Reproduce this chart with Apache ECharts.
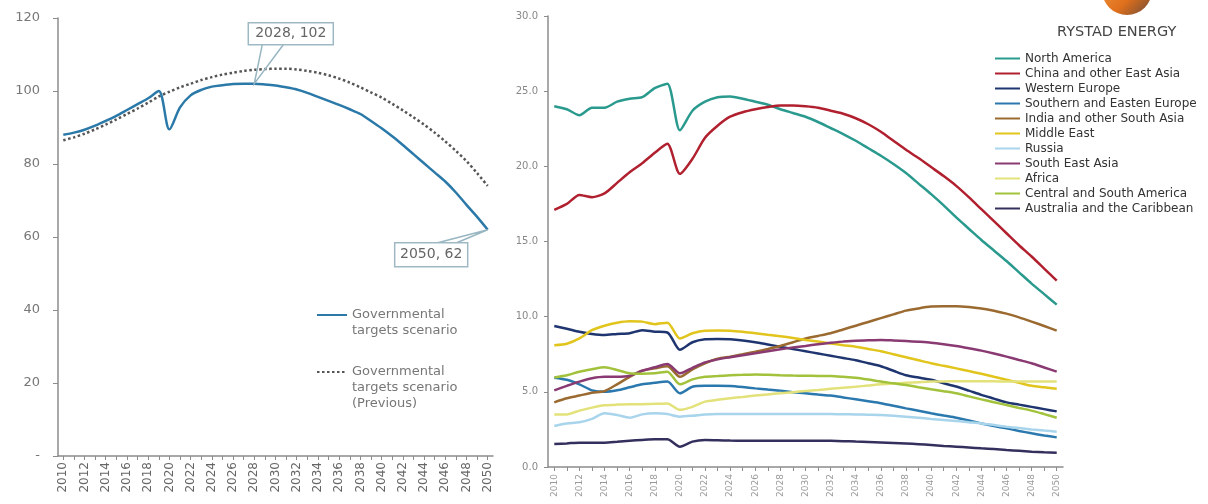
<!DOCTYPE html>
<html>
<head>
<meta charset="utf-8">
<script src="https://cdn.jsdelivr.net/npm/echarts@6/dist/echarts.min.js"></script>
<style>
  html, body { margin: 0; padding: 0; background: #ffffff; }
  #chart { width: 1208px; height: 504px; }
</style>
</head>
<body>
<div id="chart"></div>
<script>
// ---------- DATA ----------
const years = [2010,2011,2012,2013,2014,2015,2016,2017,2018,2019,2020,2021,2022,2023,2024,2025,2026,2027,2028,2029,2030,
               2031,2032,2033,2034,2035,2036,2037,2038,2039,2040,2041,2042,2043,2044,2045,2046,2047,2048,2049,2050];

// Left chart
const govTargets = [88,88.6,89.4,90.5,91.8,93.2,94.8,96.4,98,100,89.5,95.5,98.8,100.3,101.2,101.6,101.9,102,102,101.8,101.5,
                    101,100.4,99.5,98.4,97.3,96.2,95,93.7,91.8,89.8,87.6,85.2,82.7,80.2,77.7,75.2,72.2,68.8,65.5,62];
const govPrevious = [86.5,87.3,88.3,89.5,90.8,92.2,93.7,95.2,96.8,98.5,99.8,101,102,103,103.8,104.5,105,105.5,105.8,106,106.1,
                     106.1,105.9,105.5,105,104.3,103.4,102.3,101,99.6,98.2,96.5,94.7,92.8,90.8,88.6,86.2,83.6,80.8,77.5,74];
const calloutYears = [2028, 2050];
const leftYTicks = [0,20,40,60,80,100,120];

// Right chart (regions)
const regionNames = ['North America','China and other East Asia','Western Europe','Southern and Easten Europe',
  'India and other South Asia','Middle East','Russia','South East Asia','Africa','Central and South America',
  'Australia and the Caribbean'];
const northAmerica = [24.0,23.8,23.4,23.9,23.9,24.3,24.5,24.6,25.2,25.5,22.4,23.7,24.3,24.6,24.65,24.5,24.3,24.1,23.8,23.55,23.3,
  22.95,22.55,22.15,21.7,21.2,20.7,20.15,19.55,18.85,18.15,17.4,16.6,15.85,15.1,14.4,13.7,12.95,12.2,11.5,10.8];
const chinaEastAsia = [17.1,17.5,18.1,17.95,18.2,18.9,19.6,20.2,20.9,21.5,19.5,20.5,21.9,22.7,23.3,23.6,23.8,23.95,24.05,24.05,24.0,
  23.9,23.7,23.5,23.2,22.8,22.3,21.7,21.1,20.55,19.95,19.35,18.7,17.95,17.15,16.35,15.55,14.75,14.0,13.2,12.4];
const westernEurope = [9.38,9.2,9.0,8.85,8.78,8.85,8.9,9.1,9.0,8.95,7.8,8.3,8.5,8.52,8.5,8.42,8.3,8.15,8.0,7.85,7.7,
  7.55,7.4,7.25,7.1,6.9,6.7,6.4,6.1,5.95,5.8,5.57,5.35,5.08,4.8,4.55,4.3,4.15,4.0,3.85,3.7];
const southEastEurope = [5.94,5.8,5.5,5.1,5.0,5.1,5.3,5.5,5.6,5.68,4.9,5.34,5.4,5.4,5.39,5.32,5.23,5.15,5.08,4.98,4.9,
  4.82,4.75,4.63,4.5,4.37,4.24,4.07,3.9,3.74,3.57,3.42,3.28,3.09,2.9,2.73,2.57,2.4,2.24,2.1,1.97];
const indiaSouthAsia = [4.3,4.57,4.75,4.94,5.05,5.5,6.0,6.4,6.56,6.7,6.0,6.5,6.9,7.2,7.34,7.5,7.67,7.85,8.05,8.3,8.55,
  8.72,8.9,9.15,9.4,9.65,9.9,10.15,10.4,10.55,10.67,10.7,10.7,10.65,10.55,10.4,10.2,9.95,9.67,9.38,9.07];
const middleEast = [8.1,8.2,8.55,9.1,9.4,9.6,9.7,9.67,9.5,9.6,8.55,8.9,9.07,9.08,9.07,9.0,8.9,8.8,8.7,8.58,8.45,
  8.35,8.22,8.1,8.0,7.85,7.7,7.5,7.3,7.1,6.9,6.73,6.56,6.38,6.2,6.0,5.8,5.6,5.4,5.3,5.2];
const russia = [2.73,2.9,2.97,3.2,3.57,3.46,3.28,3.5,3.57,3.52,3.35,3.41,3.5,3.52,3.52,3.52,3.52,3.52,3.52,3.52,3.52,
  3.52,3.52,3.51,3.5,3.48,3.46,3.41,3.35,3.28,3.2,3.13,3.06,2.98,2.9,2.79,2.68,2.59,2.5,2.42,2.35];
const southEastAsia = [5.1,5.4,5.68,5.9,6.0,6.0,6.07,6.4,6.63,6.85,6.23,6.6,6.96,7.16,7.3,7.43,7.56,7.7,7.83,7.95,8.05,
  8.17,8.27,8.34,8.4,8.43,8.45,8.42,8.38,8.33,8.27,8.17,8.05,7.9,7.74,7.55,7.34,7.12,6.9,6.62,6.34];
const africa = [3.5,3.5,3.75,3.95,4.1,4.15,4.17,4.18,4.2,4.23,3.8,4.0,4.35,4.47,4.57,4.66,4.75,4.83,4.9,4.98,5.05,
  5.12,5.2,5.27,5.34,5.42,5.5,5.55,5.6,5.64,5.68,5.69,5.7,5.7,5.7,5.7,5.69,5.69,5.68,5.68,5.68];
const centralSouthAmerica = [5.96,6.1,6.34,6.5,6.63,6.45,6.23,6.2,6.23,6.34,5.5,5.83,6.0,6.05,6.1,6.13,6.16,6.14,6.1,6.08,6.07,
  6.06,6.05,6.0,5.94,5.82,5.68,5.57,5.45,5.31,5.17,5.04,4.9,4.7,4.5,4.31,4.12,3.93,3.75,3.52,3.28];
const australiaCaribbean = [1.53,1.57,1.62,1.62,1.62,1.68,1.75,1.8,1.84,1.84,1.35,1.69,1.8,1.78,1.76,1.75,1.75,1.75,1.75,1.75,1.75,
  1.75,1.74,1.72,1.69,1.66,1.63,1.6,1.57,1.52,1.46,1.4,1.35,1.3,1.24,1.19,1.13,1.08,1.02,0.98,0.95];
const rightYTicks = [0,5,10,15,20,25,30];

// ---------- STYLE ----------
const FONT = 'DejaVu Sans';
const regionColors = ['#2a9a8e','#b0202e','#1f3570','#2a78ad','#9a6a30','#e2c51c','#a8d4ec','#8a3a72','#e3e27a','#a2c23c','#34305e'];
const regionSeriesData = [northAmerica, chinaEastAsia, westernEurope, southEastEurope, indiaSouthAsia, middleEast,
  russia, southEastAsia, africa, centralSouthAmerica, australiaCaribbean];
const calloutLayout = [
  { bx: -6, by: -61, bw: 85, bh: 22, w1: 8, w2: 29, wy: -39 },
  { bx: -93, by: 13, bw: 73, bh: 24, w1: -50, w2: -31, wy: 13 }
];
const nameSolid = 'Governmental\ntargets scenario';
const namePrev = 'Governmental\ntargets scenario\n(Previous)';

const chart = echarts.init(document.getElementById('chart'), null, { renderer: 'canvas' });

const axisLineGrey = { show: true, lineStyle: { color: '#8c8c8c', width: 1.5 } };

const rightSeries = regionNames.map((n, i) => ({
  name: n, type: 'line', xAxisIndex: 1, yAxisIndex: 1,
  data: regionSeriesData[i], symbol: 'none', smooth: 0.25,
  lineStyle: { color: regionColors[i], width: 2.5 }, itemStyle: { color: regionColors[i] },
  z: 3
}));

// pad the multi-line legend texts so the icon sits level with the first line
const alignFirstLine = name => '\n'.repeat(name.split('\n').length - 1) + name;

const option = {
  backgroundColor: '#ffffff',
  animation: false,
  textStyle: { fontFamily: FONT },
  grid: [
    { left: 58, top: 18, width: 435, height: 438 },
    { left: 548, top: 16, width: 515, height: 451 }
  ],
  xAxis: [
    { type: 'category', gridIndex: 0, data: years, boundaryGap: true,
      axisLine: axisLineGrey,
      axisTick: { show: true, interval: 0, alignWithLabel: true, length: 4, lineStyle: { color: '#8c8c8c' } },
      axisLabel: { interval: 1, rotate: 90, fontSize: 12, color: '#666', fontFamily: FONT, margin: 6 } },
    { type: 'category', gridIndex: 1, data: years, boundaryGap: true,
      axisLine: axisLineGrey,
      axisTick: { show: true, interval: 0, alignWithLabel: true, length: 4, lineStyle: { color: '#8c8c8c' } },
      axisLabel: { interval: 1, rotate: 90, fontSize: 9, color: '#999', fontFamily: FONT, margin: 7 } }
  ],
  yAxis: [
    { type: 'value', gridIndex: 0, min: leftYTicks[0], max: leftYTicks[leftYTicks.length-1], interval: 20,
      axisLine: axisLineGrey, splitLine: { show: false },
      axisTick: { show: true, length: 5, lineStyle: { color: '#8c8c8c' } },
      axisLabel: { fontSize: 13, color: '#777', fontFamily: FONT, margin: 18,
                   formatter: v => v === 0 ? '-' : String(v) } },
    { type: 'value', gridIndex: 1, min: rightYTicks[0], max: rightYTicks[rightYTicks.length-1], interval: 5,
      axisLine: axisLineGrey, splitLine: { show: false },
      axisTick: { show: true, length: 4, lineStyle: { color: '#8c8c8c' } },
      axisLabel: { fontSize: 10, color: '#888', fontFamily: FONT, margin: 10,
                   formatter: v => v.toFixed(1) } }
  ],
  legend: [
    { data: [nameSolid], orient: 'vertical', left: 316, top: 291, padding: 0,
      itemWidth: 30, itemHeight: 10, selectedMode: false, formatter: alignFirstLine,
      itemStyle: { opacity: 0 },
      textStyle: { fontSize: 13, lineHeight: 16, color: '#777', fontFamily: FONT } },
    { data: [namePrev], orient: 'vertical', left: 316, top: 332, padding: 0,
      itemWidth: 30, itemHeight: 10, selectedMode: false, formatter: alignFirstLine,
      itemStyle: { opacity: 0 },
      textStyle: { fontSize: 13, lineHeight: 16, color: '#777', fontFamily: FONT } },
    { data: regionNames, orient: 'vertical', left: 994, top: 51, padding: 0,
      itemWidth: 25, itemHeight: 8, itemGap: 0, selectedMode: false,
      itemStyle: { opacity: 0 },
      textStyle: { fontSize: 12, lineHeight: 15, color: '#333', fontFamily: FONT } }
  ],
  graphic: [
    { type: 'circle', shape: { cx: 1127, cy: -10, r: 25 },
      style: { fill: new echarts.graphic.LinearGradient(0, 0, 1, 1, [
        { offset: 0, color: '#f6a048' }, { offset: 0.6, color: '#e0701c' }, { offset: 1, color: '#6b4a3a' }]) } },
    { type: 'text', left: 1057, top: 25,
      style: { text: 'RYSTAD ENERGY', font: '14.5px "DejaVu Sans"', fill: '#444' } }
  ],
  series: [
    { name: namePrev, type: 'line', xAxisIndex: 0, yAxisIndex: 0, data: govPrevious, symbol: 'none', smooth: 0.3,
      lineStyle: { color: '#555', width: 2.5, type: [2.5, 2.5] }, itemStyle: { color: '#555' }, z: 2 },
    { name: nameSolid, type: 'line', xAxisIndex: 0, yAxisIndex: 0, data: govTargets, symbol: 'none', smooth: 0.3,
      lineStyle: { color: '#2a79a8', width: 2.5 }, itemStyle: { color: '#2a79a8' }, z: 3 },
    { name: 'callouts', type: 'custom', xAxisIndex: 0, yAxisIndex: 0, silent: true, clip: false, z: 5,
      data: calloutYears.map(y => [years.indexOf(y), govTargets[years.indexOf(y)]]),
      renderItem: function (params, api) {
        const p = api.coord([api.value(0), api.value(1)]);
        const L = calloutLayout[params.dataIndex];
        const label = years[api.value(0)] + ', ' + api.value(1);
        return { type: 'group', children: [
          { type: 'polyline', shape: { points: [[p[0] + L.w1, p[1] + L.wy], [p[0], p[1]], [p[0] + L.w2, p[1] + L.wy]] },
            style: { stroke: '#98b6c2', lineWidth: 1.5, fill: null } },
          { type: 'rect', shape: { x: p[0] + L.bx, y: p[1] + L.by, width: L.bw, height: L.bh },
            style: { fill: '#fff', stroke: '#9fb9c4', lineWidth: 1.5 } },
          { type: 'text', style: { text: label, x: p[0] + L.bx + L.bw / 2, y: p[1] + L.by + L.bh / 2,
              align: 'center', verticalAlign: 'middle', font: '14px "DejaVu Sans"', fill: '#666' } }
        ] };
      } }
  ].concat(rightSeries)
};

chart.setOption(option);
</script>
</body>
</html>
